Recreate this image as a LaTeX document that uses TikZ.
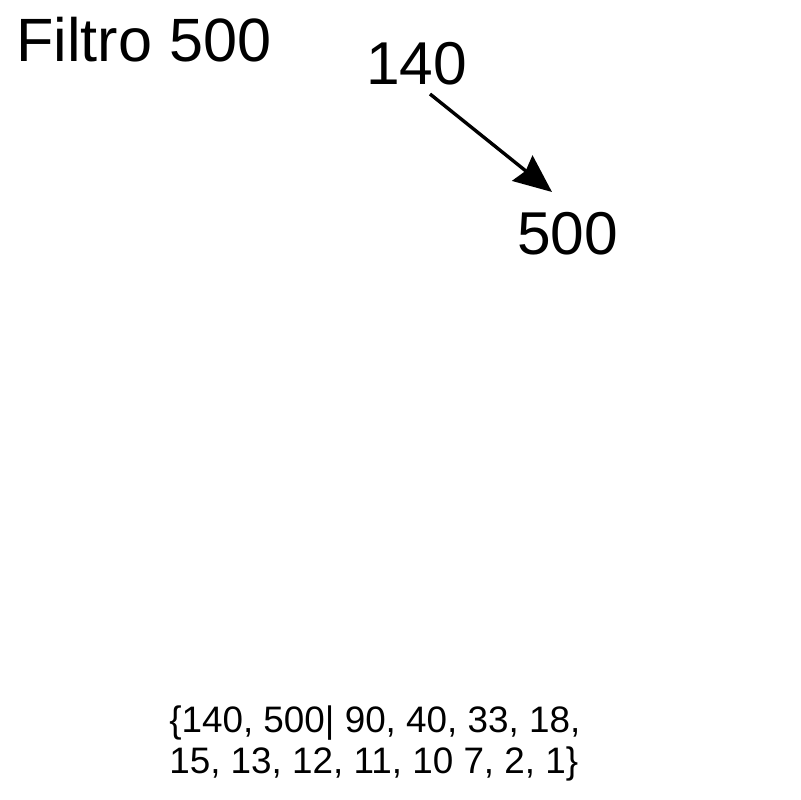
\documentclass[tikz,border=0pt]{standalone}
\usepackage{fontspec}
\setmainfont{Liberation Sans}
\usetikzlibrary{arrows.meta}
\begin{document}
\begin{tikzpicture}[x=0.025cm, y=-0.025cm, >={Stealth[length=27pt, width=23pt, inset=3pt]}]
		\useasboundingbox (0,0) rectangle (800,800);
		% Labels
		\node[anchor=base west, inner sep=0pt, font=\fontsize{43.5}{43.5}\selectfont] (titel) at (16,62) {Filtro 500};
		\node[anchor=base west, inner sep=0pt, font=\fontsize{43}{43}\selectfont] (n140) at (366,85) {140};
		\node[anchor=base west, inner sep=0pt, font=\fontsize{43}{43}\selectfont] (n500) at (517,255) {500};
		\node[anchor=base west, inner sep=0pt, align=left, font=\fontsize{26.2}{28.5}\selectfont] (rij) at (169,773) {\{140, 500\textbar{} 90, 40, 33, 18,\\15, 13, 12, 11, 10 7, 2, 1\}};
		
		% Arrow
		\coordinate (van) at (430,94);
		\coordinate (naar) at (552,192);
		\draw[->, line width=2.4pt] (van) -- (naar);
		
	\end{tikzpicture}
\end{document}
